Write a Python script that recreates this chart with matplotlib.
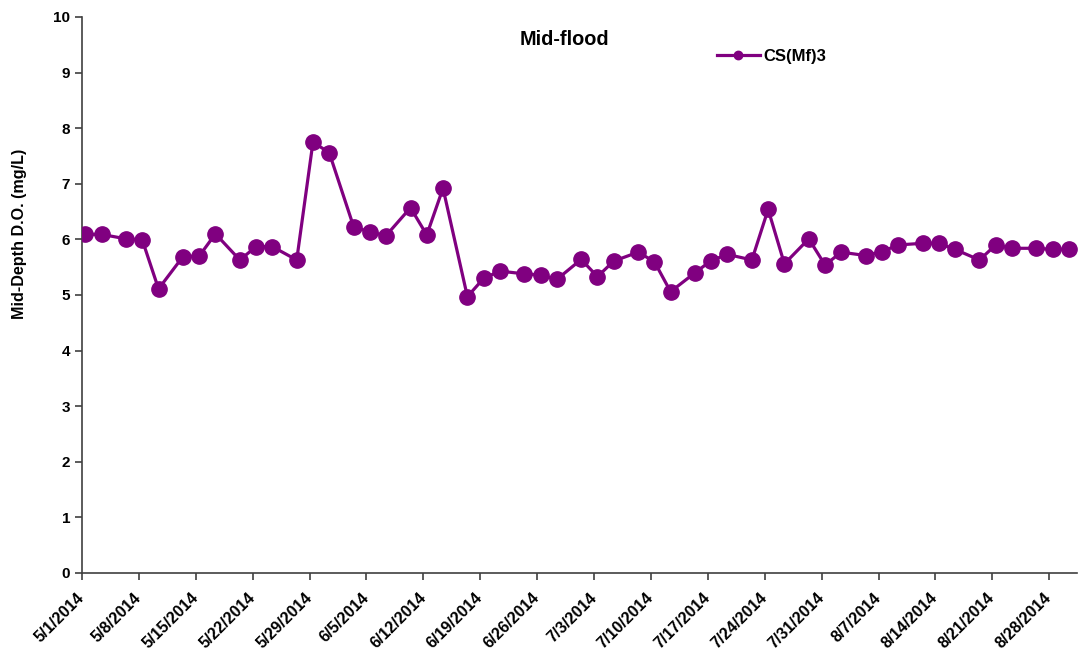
import matplotlib
matplotlib.use("Agg")
import matplotlib.pyplot as plt
import matplotlib.transforms as mtransforms
import pandas as pd

plt.rcParams['font.family'] = ['Liberation Sans', 'DejaVu Sans']

dates = ["5/1", "5/3", "5/6", "5/8", "5/10", "5/13", "5/15", "5/17", "5/20", "5/22",
         "5/24", "5/27", "5/29", "5/31", "6/3", "6/5", "6/7", "6/10", "6/12", "6/14",
         "6/17", "6/19", "6/21", "6/24", "6/26", "6/28", "7/1", "7/3", "7/5", "7/8",
         "7/10", "7/12", "7/15", "7/17", "7/19", "7/22", "7/24", "7/26", "7/29", "7/31",
         "8/2", "8/5", "8/7", "8/9", "8/12", "8/14", "8/16", "8/19", "8/21", "8/23",
         "8/26", "8/28", "8/30"]
sample_time = "10:00"
values = [6.09, 6.09, 6.01, 5.99, 5.11, 5.69, 5.70, 6.10, 5.63, 5.87,
          5.87, 5.63, 7.75, 7.56, 6.23, 6.13, 6.07, 6.57, 6.08, 6.92,
          4.97, 5.30, 5.43, 5.38, 5.36, 5.28, 5.64, 5.33, 5.61, 5.77,
          5.60, 5.06, 5.40, 5.62, 5.73, 5.63, 6.54, 5.56, 6.01, 5.54,
          5.77, 5.71, 5.78, 5.90, 5.93, 5.93, 5.82, 5.63, 5.90, 5.84,
          5.84, 5.82, 5.82]
series_name = "CS(Mf)3"
title = "Mid-flood"
ylabel = "Mid-Depth D.O. (mg/L)"

x = pd.to_datetime([f"{d}/2014 {sample_time}" for d in dates], format="%m/%d/%Y %H:%M")

fig = plt.figure(figsize=(10.81, 6.53), dpi=100)
ax = fig.add_axes([82/1081, 1-573/653, (1077-82)/1081, (573-17)/653])

color = "#800080"
ax.plot(x, values, color=color, lw=2.3, marker='o', markersize=11, label=series_name, zorder=3)

ax.set_ylim(0, 10)
ax.set_yticks(range(0, 11))
ax.set_xlim(pd.Timestamp("2014-05-01"), pd.Timestamp("2014-08-31 10:00"))
ticks = pd.date_range("2014-05-01", "2014-08-28", freq="7D")
ax.set_xticks(ticks)
ax.set_xticklabels([f"{t.month}/{t.day}/{t.year}" for t in ticks], rotation=45,
                   ha='right', va='center', rotation_mode='anchor',
                   fontweight='bold', fontsize=11.5)
offset = mtransforms.ScaledTranslation(2/100, 0, fig.dpi_scale_trans)
for lab in ax.get_xticklabels():
    lab.set_transform(lab.get_transform() + offset)
for lab in ax.get_yticklabels():
    lab.set_fontweight('bold')
    lab.set_fontsize(11)

for s in ['top', 'right']:
    ax.spines[s].set_visible(False)
for s in ['left', 'bottom']:
    ax.spines[s].set_color('#404040')
    ax.spines[s].set_linewidth(1.2)
ax.tick_params(axis='both', direction='out', length=5, width=1.2, color='#404040')
ax.tick_params(axis='x', pad=11)

ax.set_ylabel(ylabel, fontweight='bold', fontsize=11.6)
ax.yaxis.set_label_coords(-0.055, 0.61)
ax.text(0.485, 0.960, title, transform=ax.transAxes, ha='center', va='center',
        fontweight='bold', fontsize=14.3)
leg = ax.legend(loc='center left', bbox_to_anchor=(0.638, 0.929), frameon=False,
                markerscale=0.55, handlelength=2.6, handletextpad=0.2, borderpad=0,
                borderaxespad=0, prop={'weight': 'bold', 'size': 12})

fig.savefig("out.png", dpi=100, facecolor='white')
